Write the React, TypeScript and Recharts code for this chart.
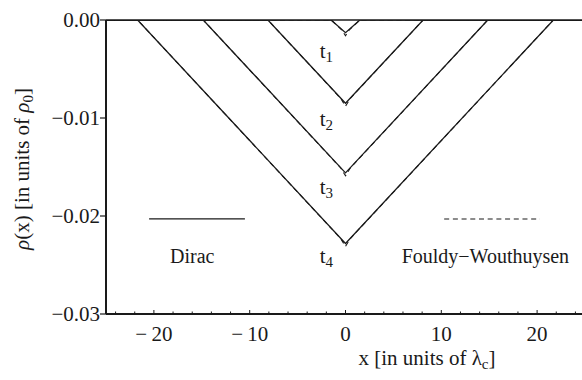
import React from "react";
import {
  ComposedChart,
  Line,
  XAxis,
  YAxis,
  ReferenceLine,
  ReferenceDot,
} from "recharts";

// Dirac density at four times (V shaped dips)
const diracT1 = [
  { x: -25, y: 0 }, { x: -1.5, y: 0 }, { x: 0, y: -0.0013 }, { x: 1.5, y: 0 }, { x: 25, y: 0 },
];
const diracT2 = [
  { x: -25, y: 0 }, { x: -8.1, y: 0 }, { x: 0, y: -0.0085 }, { x: 8.1, y: 0 }, { x: 25, y: 0 },
];
const diracT3 = [
  { x: -25, y: 0 }, { x: -14.85, y: 0 }, { x: 0, y: -0.0156 }, { x: 14.85, y: 0 }, { x: 25, y: 0 },
];
const diracT4 = [
  { x: -25, y: 0 }, { x: -21.7, y: 0 }, { x: 0, y: -0.0228 }, { x: 21.7, y: 0 }, { x: 25, y: 0 },
];

// Foldy-Wouthuysen density, almost identical except a small notch at the tip
const fwT1 = [
  { x: -25, y: 0 }, { x: -1.5, y: 0 }, { x: -0.4, y: -0.001 }, { x: 0, y: -0.0016 }, { x: 0.4, y: -0.001 }, { x: 1.5, y: 0 }, { x: 25, y: 0 },
];
const fwT2 = [
  { x: -25, y: 0 }, { x: -8.1, y: 0 }, { x: -0.5, y: -0.0080 }, { x: 0, y: -0.0088 }, { x: 0.5, y: -0.0080 }, { x: 8.1, y: 0 }, { x: 25, y: 0 },
];
const fwT3 = [
  { x: -25, y: 0 }, { x: -14.85, y: 0 }, { x: -0.5, y: -0.0151 }, { x: 0, y: -0.0159 }, { x: 0.5, y: -0.0151 }, { x: 14.85, y: 0 }, { x: 25, y: 0 },
];
const fwT4 = [
  { x: -25, y: 0 }, { x: -21.7, y: 0 }, { x: -0.5, y: -0.0223 }, { x: 0, y: -0.0231 }, { x: 0.5, y: -0.0223 }, { x: 21.7, y: 0 }, { x: 25, y: 0 },
];

// legend sample lines drawn inside the plot
const legendDirac = [{ x: -20.5, y: -0.0203 }, { x: -10.5, y: -0.0203 }];
const legendFW = [{ x: 10.3, y: -0.0203 }, { x: 20.3, y: -0.0203 }];

const timeLabels = ["1", "2", "3", "4"];
const timeLabelY = [-0.0039, -0.0108, -0.0178, -0.0248];

const xTicks = [-24, -22, -20, -18, -16, -14, -12, -10, -8, -6, -4, -2, 0, 2, 4, 6, 8, 10, 12, 14, 16, 18, 20, 22, 24];
const yTicks = [-0.03, -0.02, -0.01, 0];
const yTickLabels = ["\u22120.03", "\u22120.02", "\u22120.01", "0.00"];

const FONT = '"Liberation Serif", "Times New Roman", serif';
const INK = "#1a1a1a";

const XTick = (props: any) => {
  const { x, y, payload } = props;
  const v = payload.value;
  const major = v % 10 === 0;
  const label = v < 0 ? `\u2212\u2009${Math.abs(v)}` : `${v}`;
  return (
    <g>
      <line x1={x} x2={x} y1={y} y2={y - (major ? 4 : 2.5)} stroke={INK} strokeWidth={1} />
      {major && (
        <text x={x} y={y + 27} textAnchor="middle" fontFamily={FONT} fontSize={21} fill={INK}>
          {label}
        </text>
      )}
    </g>
  );
};

const YTick = (props: any) => {
  const { x, y, payload } = props;
  const idx = yTicks.indexOf(payload.value);
  return (
    <g>
      <line x1={x - 6} x2={x} y1={y} y2={y} stroke={INK} strokeWidth={1.2} />
      <text x={x - 6} y={y + 7} textAnchor="end" fontFamily={FONT} fontSize={21} fill={INK}>
        {yTickLabels[idx]}
      </text>
    </g>
  );
};

const XTitle = () => (
  <text x={427} y={365} textAnchor="middle" fontFamily={FONT} fontSize={21} fill={INK}>
    x [in units of {"\u03bb"}
    <tspan fontSize={15} dy={4}>c</tspan>
    <tspan dy={-4}>]</tspan>
  </text>
);

const YTitle = () => (
  <text
    x={0}
    y={0}
    transform="translate(29, 169) rotate(-90)"
    textAnchor="middle"
    fontFamily={FONT}
    fontSize={21}
    fill={INK}
  >
    <tspan fontStyle="italic">{"\u03c1"}</tspan>(x) [in units of{" "}
    <tspan fontStyle="italic">{"\u03c1"}</tspan>
    <tspan fontSize={15} dy={4}>0</tspan>
    <tspan dy={-4}>]</tspan>
  </text>
);

const textShape = (content: React.ReactNode, size = 20) => (p: any) => (
  <text x={p.cx} y={p.cy} textAnchor="middle" fontFamily={FONT} fontSize={size} fill={INK}>
    {content}
  </text>
);

const diracSeries = [diracT1, diracT2, diracT3, diracT4];
const fwSeries = [fwT1, fwT2, fwT3, fwT4];

export default function App() {
  return (
    <div style={{ position: "absolute", left: 0, top: 0, width: 582, height: 380, overflow: "hidden", background: "#fff" }}>
      <ComposedChart width={600} height={380} margin={{ top: 20, right: 15, bottom: 0, left: 0 }}>
        <XAxis
          type="number"
          dataKey="x"
          domain={[-25, 25]}
          ticks={xTicks}
          interval={0}
          allowDataOverflow
          tickSize={0}
          tickMargin={0}
          tick={<XTick />}
          height={66}
          axisLine={{ stroke: INK, strokeWidth: 2 }}
          label={XTitle}
        />
        <YAxis
          type="number"
          dataKey="y"
          domain={[-0.03, 0]}
          ticks={yTicks}
          interval={0}
          allowDataOverflow
          tickSize={0}
          tickMargin={0}
          tick={<YTick />}
          width={106}
          axisLine={{ stroke: INK, strokeWidth: 2 }}
          label={YTitle}
        />
        <ReferenceLine y={0} stroke={INK} strokeWidth={1.6} />
        {diracSeries.map((d, i) => (
          <Line
            key={`d${i}`}
            data={d}
            dataKey="y"
            type="linear"
            stroke={INK}
            strokeWidth={1.3}
            dot={false}
            isAnimationActive={false}
          />
        ))}
        {fwSeries.map((d, i) => (
          <Line
            key={`f${i}`}
            data={d}
            dataKey="y"
            type="linear"
            stroke={INK}
            strokeWidth={1.1}
            strokeDasharray="5 3.7"
            dot={false}
            isAnimationActive={false}
          />
        ))}
        <Line data={legendDirac} dataKey="y" type="linear" stroke={INK} strokeWidth={1.3} dot={false} isAnimationActive={false} />
        <Line data={legendFW} dataKey="y" type="linear" stroke={INK} strokeWidth={1.1} strokeDasharray="5 3.7" dot={false} isAnimationActive={false} />
        {timeLabels.map((t, i) => (
          <ReferenceDot
            key={`t${i}`}
            x={-2.0}
            y={timeLabelY[i]}
            r={1}
            shape={textShape(
              <>
                t<tspan fontSize={15} dy={4}>{t}</tspan>
              </>,
              21
            )}
          />
        ))}
        <ReferenceDot x={-16} y={-0.0248} r={1} shape={textShape("Dirac")} />
        <ReferenceDot x={14.6} y={-0.0248} r={1} shape={textShape("Fouldy\u2212Wouthuysen")} />
      </ComposedChart>
    </div>
  );
}
